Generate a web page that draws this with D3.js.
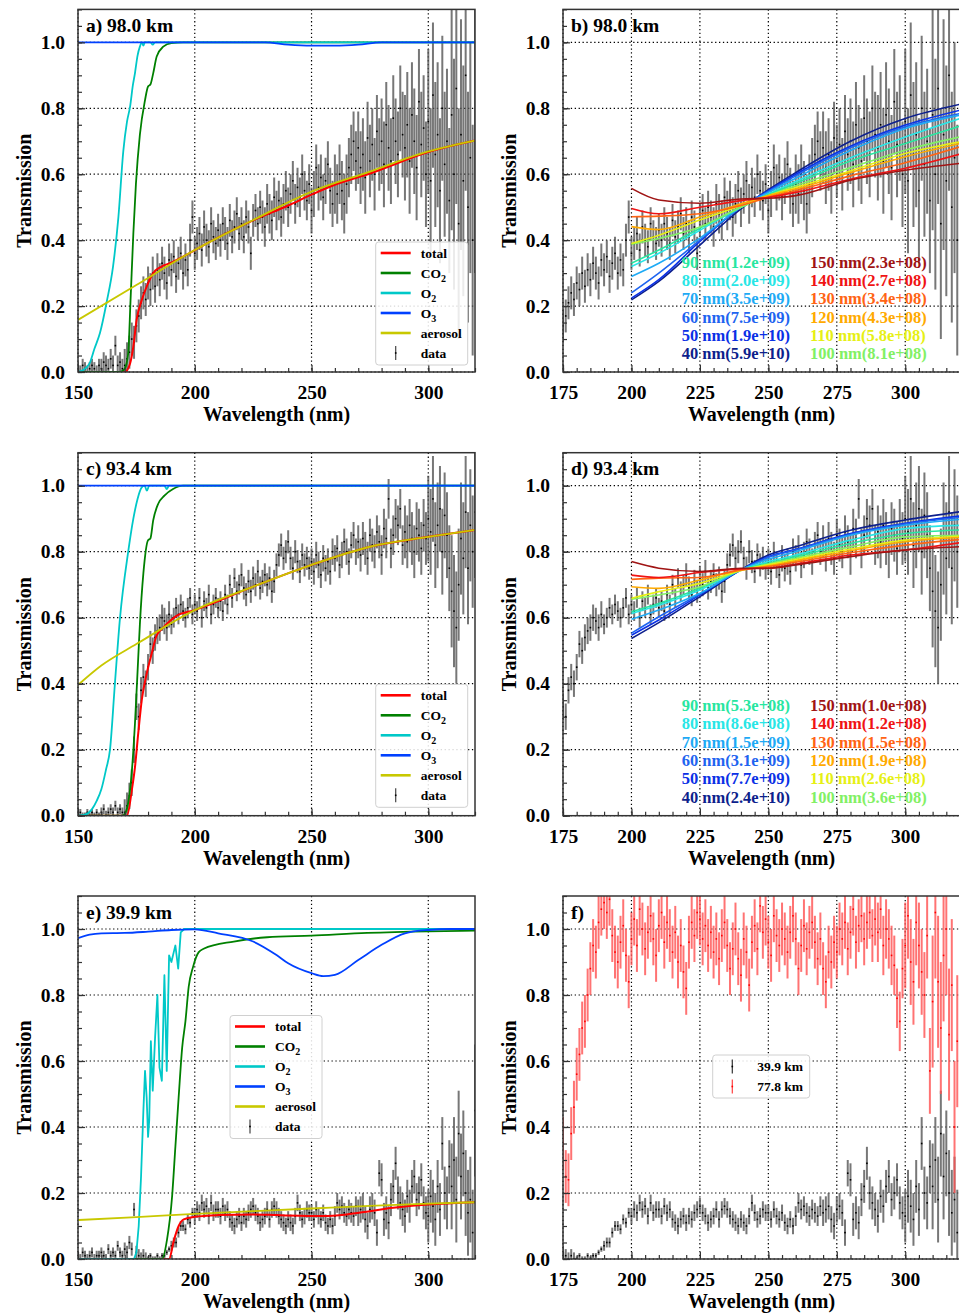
<!DOCTYPE html>
<html>
<head>
<meta charset="utf-8">
<script src="https://cdn.jsdelivr.net/npm/d3@7"></script>
<style>
body { margin: 0; background: #fff; }
svg { display: block; font-family: "Liberation Serif", "Times New Roman", serif; font-weight: bold; }
</style>
</head>
<body>
<script>
// ---- measured spectra, 1 nm steps ----
var d98 = [0.01,0.00,0.02,0.01,0.00,0.01,0.02,0.01,0.00,0.02,
  0.01,0.03,0.02,0.01,0.04,0.02,0.08,0.02,0.03,0.01,
  0.02,0.04,0.06,0.10,0.09,0.14,0.17,0.21,0.24,0.22,
  0.27,0.25,0.30,0.26,0.31,0.28,0.33,0.30,0.27,0.34,
  0.31,0.35,0.29,0.33,0.36,0.30,0.34,0.31,0.40,0.47,
  0.36,0.39,0.42,0.37,0.44,0.40,0.38,0.45,0.41,0.39,
  0.43,0.40,0.45,0.42,0.39,0.46,0.41,0.44,0.48,0.42,
  0.45,0.41,0.47,0.44,0.36,0.46,0.49,0.45,0.50,0.47,
  0.44,0.51,0.48,0.46,0.53,0.49,0.52,0.47,0.51,0.55,
  0.50,0.54,0.58,0.51,0.56,0.53,0.60,0.55,0.52,0.57,
  0.49,0.54,0.62,0.56,0.59,0.53,0.58,0.63,0.55,0.51,
  0.57,0.54,0.60,0.55,0.51,0.57,0.62,0.66,0.70,0.64,
  0.68,0.62,0.66,0.59,0.71,0.64,0.69,0.60,0.73,0.66,
  0.70,0.63,0.75,0.68,0.64,0.77,0.70,0.66,0.80,0.72,
  0.68,0.75,0.64,0.78,0.70,0.62,0.82,0.69,0.74,0.60,
  0.76,0.58,0.84,0.66,0.72,0.55,0.80,0.63,0.70,0.52,
  0.78,0.60,0.86,0.45,0.72,0.58,0.90,0.50,0.65,0.40,
  0.70];
var d934 = [0.00,0.01,0.00,0.00,0.01,0.00,0.01,0.00,0.01,0.00,
  0.01,0.02,0.00,0.01,0.02,0.01,0.03,0.01,0.02,0.01,
  0.01,0.03,0.06,0.10,0.20,0.33,0.30,0.38,0.42,0.40,
  0.45,0.52,0.50,0.54,0.56,0.57,0.60,0.59,0.57,0.61,
  0.58,0.60,0.63,0.61,0.64,0.62,0.60,0.63,0.66,0.61,
  0.64,0.62,0.66,0.60,0.65,0.63,0.67,0.61,0.64,0.66,
  0.63,0.65,0.62,0.67,0.64,0.70,0.66,0.72,0.68,0.70,
  0.73,0.69,0.67,0.71,0.68,0.72,0.70,0.74,0.69,0.71,
  0.73,0.70,0.72,0.68,0.71,0.76,0.79,0.82,0.78,0.80,
  0.83,0.78,0.75,0.80,0.77,0.74,0.79,0.76,0.78,0.75,
  0.77,0.74,0.79,0.76,0.73,0.78,0.75,0.77,0.74,0.80,
  0.78,0.81,0.76,0.79,0.83,0.80,0.77,0.82,0.85,0.80,
  0.83,0.79,0.84,0.81,0.78,0.85,0.82,0.80,0.86,0.83,
  0.79,0.87,0.84,0.96,0.81,0.85,0.90,0.88,0.93,0.82,
  0.86,0.83,0.88,0.84,0.80,0.87,0.85,0.81,0.88,0.84,
  0.90,0.86,0.96,0.82,0.88,0.93,0.80,0.91,0.85,0.75,
  0.68,0.62,0.57,0.70,0.84,0.78,0.92,0.75,0.88,0.80,
  0.92];
var d399 = [0.01,0.00,0.02,0.01,0.00,0.01,0.02,0.00,0.01,0.01,
  0.02,0.01,0.00,0.03,0.01,0.02,0.01,0.04,0.02,0.01,
  0.03,0.02,0.05,0.03,0.15,0.02,0.01,0.00,0.01,0.00,
  0.00,0.01,0.00,0.00,0.01,0.00,0.01,0.01,0.02,0.03,
  0.04,0.05,0.05,0.08,0.10,0.10,0.09,0.12,0.11,0.14,
  0.13,0.15,0.14,0.17,0.15,0.16,0.13,0.17,0.14,0.15,
  0.15,0.13,0.16,0.14,0.15,0.12,0.11,0.10,0.12,0.13,
  0.11,0.13,0.12,0.14,0.15,0.16,0.14,0.13,0.11,0.12,
  0.13,0.15,0.12,0.15,0.16,0.15,0.13,0.12,0.11,0.10,
  0.12,0.11,0.10,0.13,0.17,0.14,0.12,0.13,0.15,0.14,
  0.14,0.12,0.15,0.13,0.12,0.14,0.11,0.10,0.12,0.10,
  0.13,0.17,0.15,0.16,0.14,0.13,0.15,0.14,0.13,0.16,
  0.14,0.15,0.16,0.12,0.10,0.15,0.16,0.14,0.08,0.26,
  0.24,0.12,0.14,0.11,0.18,0.22,0.29,0.20,0.17,0.15,
  0.13,0.19,0.16,0.22,0.25,0.18,0.20,0.24,0.17,0.14,
  0.13,0.19,0.16,0.12,0.22,0.15,0.35,0.20,0.17,0.28,
  0.22,0.30,0.18,0.38,0.25,0.32,0.20,0.14,0.18,0.08,
  0.45];
// 77.8 km starts at 175 nm
var d778 = [0.35,0.25,0.24,0.38,0.46,0.56,0.62,0.70,0.72,0.80,
  0.88,0.95,0.93,1.02,1.06,1.08,1.05,1.09,0.98,0.93,
  0.90,0.96,1.01,0.92,0.84,0.97,1.03,0.95,1.06,1.00,
  0.94,0.99,1.04,0.97,0.92,1.01,1.05,0.96,1.02,0.98,
  0.93,0.99,0.90,0.95,0.87,0.82,0.96,1.02,0.98,1.05,
  1.03,0.97,1.01,0.95,0.99,0.93,0.97,0.91,0.98,1.02,
  0.95,0.88,0.94,1.00,0.91,0.86,0.97,0.93,0.83,0.96,
  1.01,0.94,1.07,0.99,1.03,0.96,0.92,1.04,0.98,0.95,
  1.00,0.97,0.93,0.99,1.04,0.97,0.88,0.95,1.01,0.94,
  0.99,1.02,0.96,0.91,0.97,0.88,0.84,0.93,0.90,0.96,
  0.93,1.00,0.97,1.02,0.94,0.99,1.06,0.96,1.01,1.04,
  0.97,1.02,1.05,0.98,1.03,0.99,1.06,0.95,1.00,0.97,
  0.92,0.89,0.79,0.72,0.88,0.95,1.04,0.90,0.84,1.02,
  0.95,0.87,0.80,0.98,0.57,0.78,1.05,0.84,0.70,0.92,
  1.00,0.68,0.83,0.40,0.66,0.95];

// error half-widths per 10 nm bin (150,160,...,320)
var err98  = [0.02,0.03,0.05,0.05,0.05,0.05,0.05,0.05,0.06,0.06,0.07,0.09,0.11,0.13,0.16,0.22,0.35,0.40];
var err934 = [0.01,0.015,0.04,0.04,0.03,0.03,0.03,0.035,0.035,0.035,0.04,0.04,0.05,0.06,0.08,0.13,0.17,0.20];
var err399 = [0.015,0.015,0.02,0.008,0.015,0.025,0.025,0.025,0.025,0.025,0.025,0.03,0.04,0.05,0.05,0.08,0.13,0.20];
var err778 = [0.08,0.08,0.08,0.08,0.08,0.08,0.08,0.08,0.08,0.08,0.08,0.08,0.08,0.08,0.09,0.13,0.20,0.25];

// ---- model transmissions [nm, T] ----
var tot98 = [[150,0],[170,0],[172.3,0.026],[173.7,0.077],[175.1,0.158],[177.3,0.218],[179.4,0.259],[182.2,0.3],[185.8,0.32],[189.4,0.33],[195,0.35],[200,0.37],[225,0.46],[240,0.505],[250,0.538],[260,0.568],[275,0.602],[300,0.667],[320,0.702]];
var co298 = [[150,0],[168,0],[170,0.01],[171.5,0.057],[172.5,0.218],[173.7,0.42],[174.8,0.57],[176.5,0.72],[178.7,0.825],[180,0.866],[181,0.872],[182.2,0.906],[183.7,0.957],[186.5,0.987],[190,0.998],[195,1.0],[320,1.0]];
var o298  = [[150,0],[152,0.005],[155,0.027],[157,0.07],[159.4,0.118],[162.3,0.213],[165,0.32],[167.3,0.47],[169.4,0.67],[171,0.76],[172.3,0.805],[173.5,0.87],[174.4,0.907],[175.5,0.96],[176.5,0.987],[177.3,1.0],[178,0.99],[178.6,1.0],[181,1.0],[182,0.993],[183,1.0],[320,1.0]];
var o398  = [[150,1.0],[230,1.0],[240,0.993],[250,0.99],[260,0.99],[270,0.993],[280,1.0],[320,1.0]];
var aer98 = [[150,0.158],[175,0.264],[200,0.37],[225,0.461],[250,0.547],[275,0.608],[300,0.669],[320,0.702]];

var tot934 = [[150,0],[171,0],[173,0.075],[174.4,0.147],[175.8,0.25],[177.3,0.35],[179.4,0.43],[181.5,0.49],[183.6,0.545],[186.5,0.57],[189.4,0.59],[192,0.605],[200,0.623],[225,0.694],[250,0.76],[275,0.815],[300,0.845],[320,0.866]];
var co2934 = [[150,0],[169,0],[170,0.005],[171.5,0.04],[173,0.13],[174.4,0.28],[175.8,0.48],[176.5,0.58],[178,0.735],[180,0.835],[181,0.84],[182.2,0.895],[184.4,0.946],[187,0.97],[190.7,0.99],[195,1.0],[320,1.0]];
var o2934  = [[150,0],[153,0.003],[156,0.02],[158,0.045],[160,0.08],[162,0.14],[163.7,0.2],[165.8,0.4],[168,0.6],[171.5,0.8],[173.7,0.9],[175.5,0.96],[177.3,0.995],[178.5,1.0],[179.5,0.985],[180.5,1.0],[187,1.0],[188,0.99],[189,1.0],[320,1.0]];
var o3934  = [[150,1.0],[320,1.0]];
var aer934 = [[150,0.396],[160,0.455],[175,0.52],[200,0.623],[225,0.694],[250,0.76],[275,0.815],[300,0.845],[320,0.866]];

var tot399 = [[150,0],[189,0],[191,0.055],[193.1,0.1],[195.3,0.12],[200,0.128],[210,0.133],[225,0.135],[235,0.133],[245,0.131],[255,0.13],[265,0.135],[275,0.145],[285,0.155],[300,0.165],[320,0.172]];
var co2399 = [[150,0],[186,0],[188.1,0.058],[190.3,0.19],[191.7,0.34],[193.1,0.49],[194.6,0.64],[196,0.72],[197.4,0.825],[199.3,0.886],[201.7,0.93],[203.8,0.94],[216.7,0.962],[231,0.975],[250,0.98],[273.8,0.988],[300,0.993],[320,0.995]];
var o2399  = [[150,0],[174,0],[175,0.02],[176,0.1],[177,0.25],[178,0.45],[178.7,0.57],[179.4,0.49],[180,0.37],[180.5,0.42],[181.2,0.66],[182,0.51],[183,0.67],[184,0.80],[184.9,0.58],[185.9,0.54],[187,0.86],[188,0.57],[189,0.92],[190,0.90],[191,0.93],[191.7,0.95],[192.9,0.88],[194,0.99],[195.5,1.0],[320,1.0]];
var o3399  = [[150,0.972],[155,0.983],[160,0.987],[170,0.988],[180,0.992],[190,0.997],[200,0.999],[210,0.987],[225,0.962],[235,0.921],[240,0.896],[250,0.866],[255,0.857],[260,0.861],[270,0.906],[280,0.952],[290,0.987],[300,0.997],[310,1.0],[320,1.0]];
var aer399 = [[150,0.118],[175,0.127],[200,0.137],[225,0.145],[250,0.153],[275,0.161],[300,0.168],[320,0.172]];

// ---- aerosol size fits (panels b, d) ----
var fitX = [200,210,225,240,250,260,280,300,320];
var fitSizes = [40,50,60,70,80,90,100,110,120,130,140,150];
var fitNum98  = ["5.9e+10","1.9e+10","7.5e+09","3.5e+09","2.0e+09","1.2e+09","8.1e+08","5.8e+08","4.3e+08","3.4e+08","2.7e+08","2.3e+08"];
var fitNum934 = ["2.4e+10","7.7e+09","3.1e+09","1.5e+09","8.6e+08","5.3e+08","3.6e+08","2.6e+08","1.9e+08","1.5e+08","1.2e+08","1.0e+08"];
var fit98 = [
  [0.219,0.275,0.385,0.495,0.553,0.605,0.700,0.769,0.812],
  [0.224,0.280,0.396,0.500,0.550,0.600,0.685,0.749,0.794],
  [0.240,0.300,0.400,0.500,0.548,0.595,0.680,0.744,0.784],
  [0.290,0.330,0.406,0.500,0.545,0.588,0.672,0.739,0.779],
  [0.320,0.360,0.430,0.500,0.540,0.578,0.650,0.713,0.769],
  [0.330,0.370,0.436,0.500,0.538,0.572,0.640,0.693,0.746],
  [0.388,0.405,0.440,0.500,0.535,0.565,0.620,0.673,0.713],
  [0.390,0.415,0.461,0.505,0.535,0.560,0.610,0.663,0.698],
  [0.441,0.432,0.470,0.510,0.535,0.555,0.605,0.653,0.693],
  [0.471,0.473,0.480,0.505,0.530,0.550,0.595,0.635,0.683],
  [0.496,0.480,0.500,0.520,0.530,0.545,0.585,0.618,0.661],
  [0.557,0.522,0.512,0.525,0.527,0.535,0.582,0.612,0.633]];
var fit934 = [
  [0.537,0.585,0.664,0.745,0.790,0.815,0.865,0.896,0.921],
  [0.547,0.593,0.669,0.745,0.785,0.807,0.855,0.886,0.908],
  [0.553,0.603,0.672,0.745,0.783,0.805,0.853,0.884,0.904],
  [0.595,0.623,0.674,0.745,0.777,0.800,0.850,0.880,0.898],
  [0.613,0.638,0.684,0.745,0.770,0.790,0.835,0.870,0.880],
  [0.618,0.643,0.689,0.745,0.765,0.785,0.825,0.855,0.866],
  [0.656,0.669,0.694,0.743,0.763,0.780,0.815,0.845,0.850],
  [0.659,0.679,0.704,0.743,0.760,0.776,0.808,0.835,0.847],
  [0.694,0.689,0.714,0.745,0.757,0.772,0.803,0.830,0.843],
  [0.716,0.720,0.722,0.745,0.755,0.768,0.797,0.820,0.837],
  [0.729,0.722,0.737,0.748,0.750,0.762,0.790,0.805,0.827],
  [0.770,0.750,0.740,0.750,0.750,0.760,0.785,0.805,0.815]];
var fitColors = ["#0d1f8c","#0a30e6","#1e64f0","#1eaaf5","#28e6e6","#28e6a0","#82f064","#e6f014","#ffaa00","#ff6414","#f01414","#a01414"];

var yTicks = [0,0.2,0.4,0.6,0.8,1.0];

// ---- layout ----
var svg = d3.select("body").append("svg").attr("width",959).attr("height",1314);
var cols = [[78,475],[563,960]];
var rows = [[9.4,372],[452.7,815.7],[896,1259]];
var nClip = 0;

function panel(c, r, xdom, xmajor, xminorStep, label){
  var x = d3.scaleLinear().domain(xdom).range(cols[c]);
  var y = d3.scaleLinear().domain([0,1.1]).range([rows[r][1], rows[r][0]]);
  var L = cols[c][0], R = cols[c][1], T = rows[r][0], B = rows[r][1];
  var id = "clip" + (nClip++);
  svg.append("clipPath").attr("id",id).append("rect")
    .attr("x",L).attr("y",T).attr("width",R-L).attr("height",B-T);
  var g = svg.append("g");
  // grid
  var grid = g.append("g").attr("stroke","#000").attr("stroke-width",1.2).attr("stroke-dasharray","1.3,2.6");
  grid.selectAll(".gx").data(xmajor).enter().append("line")
    .attr("x1",x).attr("x2",x).attr("y1",T).attr("y2",B);
  grid.selectAll(".gy").data(yTicks).enter().append("line")
    .attr("x1",L).attr("x2",R).attr("y1",y).attr("y2",y);
  var plot = g.append("g").attr("clip-path","url(#"+id+")");
  var top = svg.append("g");
  var xminor = d3.range(xdom[0], xdom[1]+0.01, xminorStep);
  var yminor = d3.range(0, 1.101, 0.05);
  // axes (inward ticks)
  top.append("g").attr("transform","translate(0,"+B+")")
    .call(d3.axisBottom(x).tickValues(xminor).tickSize(-4).tickFormat(""));
  top.append("g").attr("transform","translate(0,"+B+")")
    .call(d3.axisBottom(x).tickValues(xmajor).tickSize(-7).tickPadding(13).tickFormat(d3.format("d")));
  top.append("g").attr("transform","translate("+L+",0)")
    .call(d3.axisLeft(y).tickValues(yminor).tickSize(-4).tickFormat(""));
  top.append("g").attr("transform","translate("+L+",0)")
    .call(d3.axisLeft(y).tickValues(yTicks).tickSize(-7).tickPadding(13).tickFormat(d3.format(".1f")));
  top.selectAll(".domain").remove();
  top.selectAll(".tick line").attr("stroke","#333").attr("stroke-width",1.2);
  top.selectAll(".tick text").attr("font-size",19.5).attr("font-family","Liberation Serif, serif")
    .attr("font-weight","bold").attr("fill","#000");
  top.append("rect").attr("x",L).attr("y",T).attr("width",R-L).attr("height",B-T)
    .attr("fill","none").attr("stroke","#333").attr("stroke-width",1.5);
  top.append("text").attr("x",L+8).attr("y",T+22.5).attr("font-size",19.5).text(label);
  top.append("text").attr("x",(L+R)/2).attr("y",B+49).attr("text-anchor","middle")
    .attr("font-size",20).text("Wavelength (nm)");
  top.append("text").attr("transform","translate("+(L-47)+","+((T+B)/2)+") rotate(-90)")
    .attr("text-anchor","middle").attr("font-size",20).text("Transmission");
  return {x:x, y:y, plot:plot, top:top, L:L, T:T};
}

function errbars(p, vals, start, errs, color, dot, xmin){
  var pts = vals.map(function(v,i){
    var nm = start + i;
    return {nm:nm, v:v, e:errs[Math.floor((nm-150)/10)]};
  }).filter(function(d){ return d.nm >= xmin; });
  var g = p.plot.append("g");
  g.selectAll("line").data(pts).enter().append("line")
    .attr("x1",function(d){ return p.x(d.nm); }).attr("x2",function(d){ return p.x(d.nm); })
    .attr("y1",function(d){ return p.y(d.v - d.e); }).attr("y2",function(d){ return p.y(d.v + d.e); })
    .attr("stroke",color).attr("stroke-width",2).attr("stroke-opacity",0.8);
  g.selectAll("rect").data(pts).enter().append("rect")
    .attr("x",function(d){ return p.x(d.nm)-0.8; }).attr("y",function(d){ return p.y(d.v)-0.8; })
    .attr("width",1.6).attr("height",1.6).attr("fill",dot);
}

function curve(p, pts, color, w, kind){
  var line = d3.line().x(function(d){ return p.x(d[0]); }).y(function(d){ return p.y(d[1]); })
    .curve(kind || d3.curveMonotoneX);
  p.plot.append("path").attr("d",line(pts)).attr("fill","none")
    .attr("stroke",color).attr("stroke-width",w).attr("stroke-linejoin","round");
}

function addLabel(t, base, sub){
  t.text(base);
  if (sub) t.append("tspan").attr("font-size",10).attr("dy",4).text(sub);
}

function modelLegend(p, lx, ly){
  var items = [["line","#ff0000","total"],["line","#008000","CO","2"],["line","#00c8c8","O","2"],
               ["line","#0040ff","O","3"],["line","#c8c800","aerosol"],["data","#333","data"]];
  var g = p.top.append("g");
  g.append("rect").attr("x",lx).attr("y",ly).attr("width",92).attr("height",123).attr("rx",3)
    .attr("fill","#fff").attr("fill-opacity",0.85).attr("stroke","#d0d0d0").attr("stroke-width",1);
  items.forEach(function(it,i){
    var cy = ly + 11 + 20*i;
    if (it[0] === "line") {
      g.append("line").attr("x1",lx+5).attr("x2",lx+35).attr("y1",cy).attr("y2",cy)
        .attr("stroke",it[1]).attr("stroke-width",2.6);
    } else {
      g.append("line").attr("x1",lx+20).attr("x2",lx+20).attr("y1",cy-7).attr("y2",cy+7)
        .attr("stroke","#444").attr("stroke-width",1.2);
      g.append("rect").attr("x",lx+19.2).attr("y",cy-0.8).attr("width",1.6).attr("height",1.6).attr("fill","#000");
    }
    addLabel(g.append("text").attr("x",lx+45).attr("y",cy+4.5).attr("font-size",13.5), it[2], it[3]);
  });
}

function fitPanel(p, fits, nums){
  fits.forEach(function(vals,i){
    curve(p, fitX.map(function(xv,j){ return [xv, vals[j]]; }), fitColors[i], 1.6);
  });
  fitSizes.forEach(function(s,i){
    var col = i < 6 ? 0 : 1, row = i < 6 ? 5 - i : 11 - i;
    p.top.append("text").attr("x", col === 0 ? 681.7 : 810)
      .attr("y", p.T + 252.3 + 18.3*row + 6).attr("font-size",16.5)
      .attr("fill",fitColors[i]).text(s + " nm(" + nums[i] + ")");
  });
}

// a) 98.0 km
var pa = panel(0,0,[150,320],[150,200,250,300],10,"a) 98.0 km");
errbars(pa, d98, 150, err98, "#555", "#000", 150);
curve(pa, tot98, "#ff0000", 2);
curve(pa, co298, "#008000", 1.8);
curve(pa, o298, "#00c8c8", 1.8);
curve(pa, o398, "#0040ff", 1.8);
curve(pa, aer98, "#c8c800", 1.8);
modelLegend(pa, 375.7, 242);

// b) 98.0 km fits
var pb = panel(1,0,[175,320],[175,200,225,250,275,300],5,"b) 98.0 km");
errbars(pb, d98, 150, err98, "#555", "#000", 175);
fitPanel(pb, fit98, fitNum98);

// c) 93.4 km
var pc = panel(0,1,[150,320],[150,200,250,300],10,"c) 93.4 km");
errbars(pc, d934, 150, err934, "#555", "#000", 150);
curve(pc, tot934, "#ff0000", 2);
curve(pc, co2934, "#008000", 1.8);
curve(pc, o2934, "#00c8c8", 1.8);
curve(pc, o3934, "#0040ff", 1.8);
curve(pc, aer934, "#c8c800", 1.8);
modelLegend(pc, 375.7, 684.3);

// d) 93.4 km fits
var pd = panel(1,1,[175,320],[175,200,225,250,275,300],5,"d) 93.4 km");
errbars(pd, d934, 150, err934, "#555", "#000", 175);
fitPanel(pd, fit934, fitNum934);

// e) 39.9 km
var pe = panel(0,2,[150,320],[150,200,250,300],10,"e) 39.9 km");
errbars(pe, d399, 150, err399, "#555", "#000", 150);
curve(pe, tot399, "#ff0000", 2);
curve(pe, co2399, "#008000", 1.8);
curve(pe, o2399, "#00c8c8", 1.8, d3.curveLinear);
curve(pe, o3399, "#0040ff", 1.8);
curve(pe, aer399, "#c8c800", 1.8);
modelLegend(pe, 230, 1015.5);

// f) 39.9 vs 77.8 km
var pf = panel(1,2,[175,320],[175,200,225,250,275,300],5,"f)");
errbars(pf, d399, 150, err399, "#555", "#000", 175);
errbars(pf, d778, 175, err778, "#ff5050", "#ff0000", 175);
(function(){
  var lx = 712.7, ly = 1055;
  var g = pf.top.append("g");
  g.append("rect").attr("x",lx).attr("y",ly).attr("width",97).attr("height",43).attr("rx",3)
    .attr("fill","#fff").attr("fill-opacity",0.85).attr("stroke","#d0d0d0");
  [["#333","#000","39.9 km"],["#ff4040","#ff0000","77.8 km"]].forEach(function(it,i){
    var cy = ly + 11.5 + 20*i;
    g.append("line").attr("x1",lx+19.6).attr("x2",lx+19.6).attr("y1",cy-7).attr("y2",cy+7)
      .attr("stroke",it[0]).attr("stroke-width",1.2);
    g.append("rect").attr("x",lx+18.8).attr("y",cy-0.8).attr("width",1.6).attr("height",1.6).attr("fill",it[1]);
    g.append("text").attr("x",lx+44.6).attr("y",cy+4.5).attr("font-size",13.5).text(it[2]);
  });
})();
</script>
</body>
</html>
